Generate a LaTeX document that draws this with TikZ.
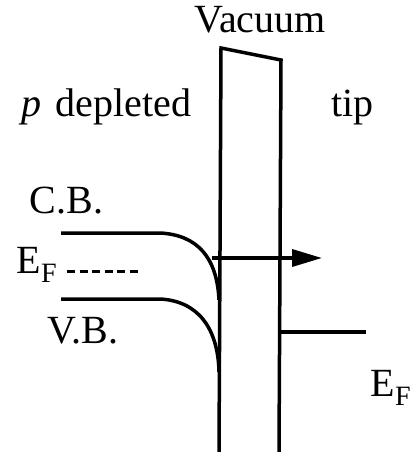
\documentclass[tikz,border=0pt]{standalone}
\usepackage{fontspec}
\setmainfont{Liberation Serif}
\usetikzlibrary{arrows.meta}

\begin{document}
\begin{tikzpicture}[x=1pt,y=-1pt,line width=3.5pt,
  lbl/.style={font=\fontsize{40}{46}\selectfont,inner sep=0pt,anchor=base west}]
\useasboundingbox (0,0) rectangle (412,452);
% labels
\node[lbl] (vac) at (193,33) {Vacuum};
\node[lbl] (pdep) at (20,116) {\textit{p}\hspace{0.1em} depleted};
\node[lbl] (tip) at (330,116) {tip};
\node[lbl] (cb) at (28,213) {C.B.};
\node[lbl] (efs) at (15,273) {E\textsubscript{F}};
\node[lbl] (vb) at (46,343) {V.B.};
\node[lbl] (eft) at (369,396) {E\textsubscript{F}};
% vacuum barrier
\draw (219,452) -- (221,48) -- (281,60) -- (279,452);
% band bending at the surface
\draw (61,233) -- (160,233) .. controls (198,235) and (217,258) .. (219,300);
\draw (61,299) -- (160,299) .. controls (198,301) and (218,328) .. (219,372);
% Fermi levels
\draw[line width=3pt,dash pattern=on 8pt off 4.5pt] (67,271) -- (140,271);
\draw (280,332) -- (366,332);
% tunnelling electron
\coordinate (tin) at (212,258);
\coordinate (tout) at (322,258);
\draw[-{Triangle[length=30pt,width=17pt]}] (tin) -- (tout);
\end{tikzpicture}
\end{document}
